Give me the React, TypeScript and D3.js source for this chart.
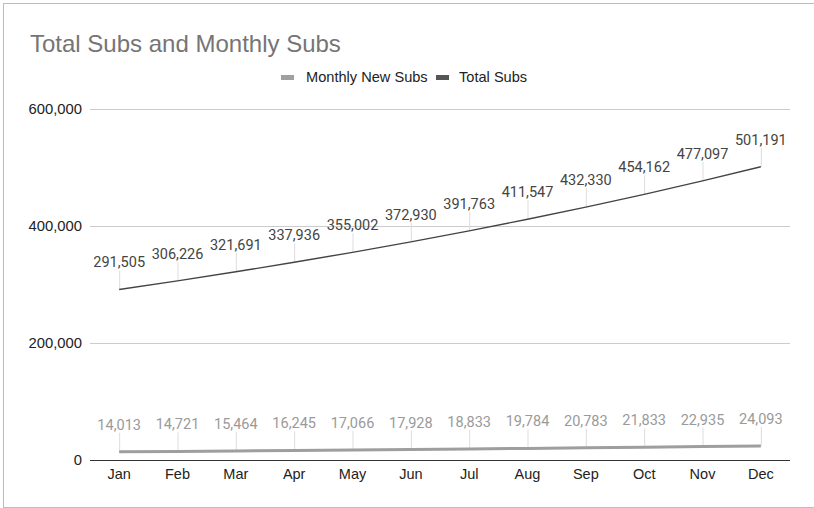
import React from "react";
import * as d3 from "d3";

const months = ["Jan", "Feb", "Mar", "Apr", "May", "Jun", "Jul", "Aug", "Sep", "Oct", "Nov", "Dec"];
const totalSubs = [291505, 306226, 321691, 337936, 355002, 372930, 391763, 411547, 432330, 454162, 477097, 501191];
const monthlyNewSubs = [14013, 14721, 15464, 16245, 17066, 17928, 18833, 19784, 20783, 21833, 22935, 24093];
const yTicks = [0, 200000, 400000, 600000];
const title = "Total Subs and Monthly Subs";
const seriesNames = ["Monthly New Subs", "Total Subs"];

const W = 814;
const H = 508;
const left = 90;
const right = 790;
const top = 109;
const bottom = 460;

export default function App() {
  const x = d3.scaleBand<string>().domain(months).range([left, right]);
  const y = d3.scaleLinear().domain([0, 600000]).range([bottom, top]);
  const cx = (m: string) => (x(m) as number) + x.bandwidth() / 2;
  const line = d3
    .line<number>()
    .x((_, i) => cx(months[i]))
    .y((d) => y(d));
  const fmt = d3.format(",");
  const series = [
    { name: seriesNames[0], data: monthlyNewSubs, color: "#9e9e9e", width: 3, label: "#9a9a9a" },
    { name: seriesNames[1], data: totalSubs, color: "#444", width: 1.4, label: "#444" },
  ];
  const axisFont = "Arial, 'Liberation Sans', sans-serif";
  const labelFont = "Roboto, sans-serif";
  return (
    <svg width={W} height={H} style={{ position: "absolute", left: 0, top: 0, background: "#fff" }}>
      <rect x={3.5} y={3.5} width={W + 10} height={504} fill="#fff" stroke="#bdbdbd" strokeWidth={1} />
      <text x={30} y={52} fontFamily={axisFont} fontSize={24} fill="#757575">
        {title}
      </text>
      {/* legend */}
      <rect x={281} y={75} width={13} height={5} fill="#a0a0a0" />
      <text x={306} y={82} fontFamily={axisFont} fontSize={14.6} fill="#222">
        {seriesNames[0]}
      </text>
      <rect x={436} y={75} width={13} height={5} fill="#555" />
      <text x={459} y={82} fontFamily={axisFont} fontSize={14.6} fill="#222">
        {seriesNames[1]}
      </text>
      {/* gridlines */}
      {yTicks.map((t) => (
        <g key={t}>
          {t !== 0 && (
            <line x1={left} x2={right} y1={y(t) + 0.5} y2={y(t) + 0.5} stroke="#cccccc" strokeWidth={1} />
          )}
          <text x={82} y={y(t) + 5} textAnchor="end" fontFamily={axisFont} fontSize={14.8} fill="#222">
            {fmt(t)}
          </text>
        </g>
      ))}
      {/* x labels */}
      {months.map((m) => (
        <text key={m} x={cx(m)} y={479} textAnchor="middle" fontFamily={axisFont} fontSize={14.5} fill="#222">
          {m}
        </text>
      ))}
      {/* leader lines */}
      {series.map((s) =>
        s.data.map((d, i) => (
          <line
            key={s.name + i}
            x1={cx(months[i]) + 0.5}
            x2={cx(months[i]) + 0.5}
            y1={y(d) - 19}
            y2={y(d)}
            stroke="#dddddd"
            strokeWidth={1}
          />
        ))
      )}
      {/* lines */}
      {series.map((s) => (
        <path key={s.name} d={line(s.data) || ""} fill="none" stroke={s.color} strokeWidth={s.width} />
      ))}
      {/* zero line */}
      <line x1={left} x2={right} y1={y(0) + 0.5} y2={y(0) + 0.5} stroke="#333" strokeWidth={1} />
      {/* data labels */}
      {series.map((s) =>
        s.data.map((d, i) => (
          <text
            key={"l" + s.name + i}
            x={cx(months[i])}
            y={y(d) - 22}
            textAnchor="middle"
            fontFamily={labelFont}
            fontSize={14.5}
            fill={s.label}
          >
            {fmt(d)}
          </text>
        ))
      )}
    </svg>
  );
}
